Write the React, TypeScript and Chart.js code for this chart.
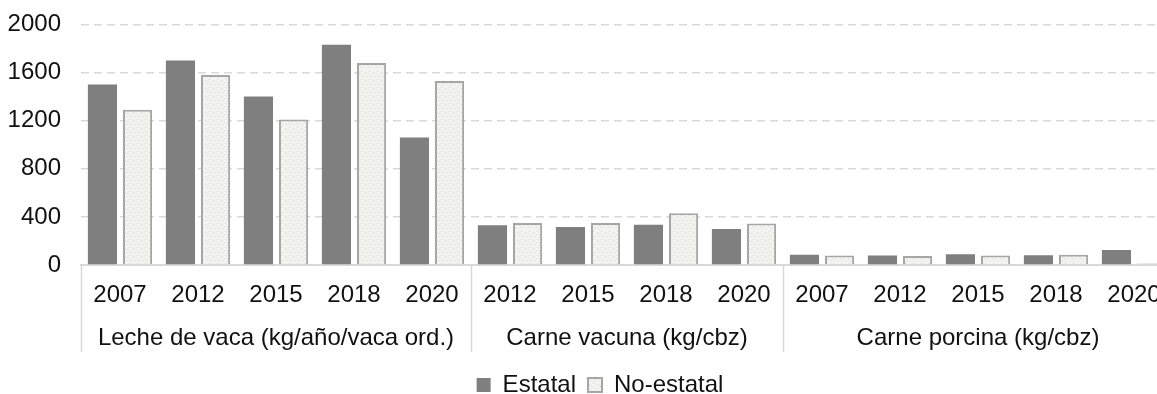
import React, { useEffect, useRef } from "react";
import { Chart, registerables } from "chart.js";
Chart.register(...registerables);

const years = ["2007", "2012", "2015", "2018", "2020", "2012", "2015", "2018", "2020", "2007", "2012", "2015", "2018", "2020"];
const groupLabels = ["Leche de vaca (kg/año/vaca ord.)", "Carne vacuna (kg/cbz)", "Carne porcina (kg/cbz)"];
const groupSizes = [5, 4, 5];
const estatal = [1500, 1700, 1400, 1830, 1060, 330, 315, 335, 300, 85, 80, 90, 82, 125];
const noEstatal = [1290, 1580, 1210, 1680, 1530, 350, 350, 430, 345, 80, 75, 80, 85, 12];
const seriesNames = ["Estatal", "No-estatal"];
const yMin = 0;
const yMax = 2000;
const yStep = 400;

const FONT = "'Liberation Sans', Arial, sans-serif";
const FS = 24;

function makePattern(): CanvasPattern | string {
  const c = document.createElement("canvas");
  c.width = 8;
  c.height = 8;
  const g = c.getContext("2d");
  if (!g) return "#f2f2f2";
  g.fillStyle = "#f3f3f1";
  g.fillRect(0, 0, 8, 8);
  g.fillStyle = "#d8d8d8";
  const dots = [[1, 1], [5, 2], [3, 5], [6, 6], [0, 4], [7, 3], [2, 7]];
  dots.forEach(([x, y]) => g.fillRect(x, y, 1, 1));
  const p = g.createPattern(c, "repeat");
  return p || "#f2f2f2";
}

const groupPlugin = {
  id: "groupLabels",
  afterDraw(chart: any) {
    const x = chart.scales.x;
    const ctx = chart.ctx;
    const n = chart.data.labels.length;
    const cw = (x.right - x.left) / n;
    const top = chart.chartArea.bottom;
    const bounds: number[] = [x.getPixelForValue(0) - cw / 2];
    let idx = 0;
    groupSizes.forEach((s) => {
      idx += s;
      bounds.push(x.getPixelForValue(idx - 1) + cw / 2);
    });
    ctx.save();
    ctx.strokeStyle = "#d9d9d9";
    ctx.lineWidth = 1.5;
    bounds.forEach((b) => {
      ctx.beginPath();
      ctx.moveTo(Math.round(b) + 0.5, top);
      ctx.lineTo(Math.round(b) + 0.5, top + 87);
      ctx.stroke();
    });
    ctx.font = `${FS}px ${FONT}`;
    ctx.fillStyle = "#111";
    ctx.textAlign = "center";
    ctx.textBaseline = "middle";
    groupLabels.forEach((g, i) => ctx.fillText(g, (bounds[i] + bounds[i + 1]) / 2, top + 73));
    ctx.restore();
  },
};

export default function App() {
  const ref = useRef<HTMLCanvasElement | null>(null);
  useEffect(() => {
    if (!ref.current) return;
    const pattern = makePattern();
    const chart = new Chart(ref.current, {
      type: "bar",
      data: {
        labels: years,
        datasets: [
          {
            label: seriesNames[0],
            data: estatal,
            backgroundColor: "#7f7f7f",
            borderWidth: 0,
          },
          {
            label: seriesNames[1],
            data: noEstatal,
            backgroundColor: pattern as any,
            borderColor: "#a6a6a6",
            borderWidth: 2,
          },
        ],
      },
      options: {
        responsive: false,
        animation: false,
        devicePixelRatio: 1,
        datasets: { bar: { categoryPercentage: 0.9, barPercentage: 0.83 } },
        layout: { padding: { top: 13, left: 0, right: 0, bottom: 0 } },
        plugins: {
          tooltip: { enabled: false },
          legend: {
            position: "bottom",
            labels: {
              boxWidth: 14,
              boxHeight: 14,
              padding: 12,
              color: "#111",
              font: { family: FONT, size: FS },
            },
          },
        },
        scales: {
          x: {
            grid: { display: false },
            border: { display: true, color: "#d9d9d9", width: 2 },
            ticks: { color: "#111", font: { family: FONT, size: FS }, padding: 8, maxRotation: 0, autoSkip: false },
            afterFit: (s: any) => {
              s.height = 96;
            },
          },
          y: {
            min: yMin,
            max: yMax,
            ticks: {
              stepSize: yStep,
              color: "#111",
              font: { family: FONT, size: FS },
              padding: 20,
              callback: (v: any) => String(v),
            },
            grid: {
              drawTicks: false,
              lineWidth: 1.5,
              color: (c: any) => (c.tick && c.tick.value === 0 ? "rgba(0,0,0,0)" : "#d9d9d9"),
            },
            border: { display: false, dash: [8, 5] },
            afterFit: (s: any) => {
              s.width = 81;
            },
          },
          y2: {
            type: "linear",
            position: "right",
            display: true,
            grid: { display: false },
            border: { display: false },
            ticks: { display: false },
            afterFit: (s: any) => {
              s.width = 27;
            },
          },
        },
      },
      plugins: [groupPlugin],
    });
    return () => chart.destroy();
  }, []);
  return (
    <div style={{ position: "absolute", left: 0, top: 0, width: 1157, height: 394, overflow: "hidden", background: "#fff" }}>
      <canvas ref={ref} width={1200} height={417} style={{ width: 1200, height: 417, display: "block", marginTop: -10 }} />
    </div>
  );
}
